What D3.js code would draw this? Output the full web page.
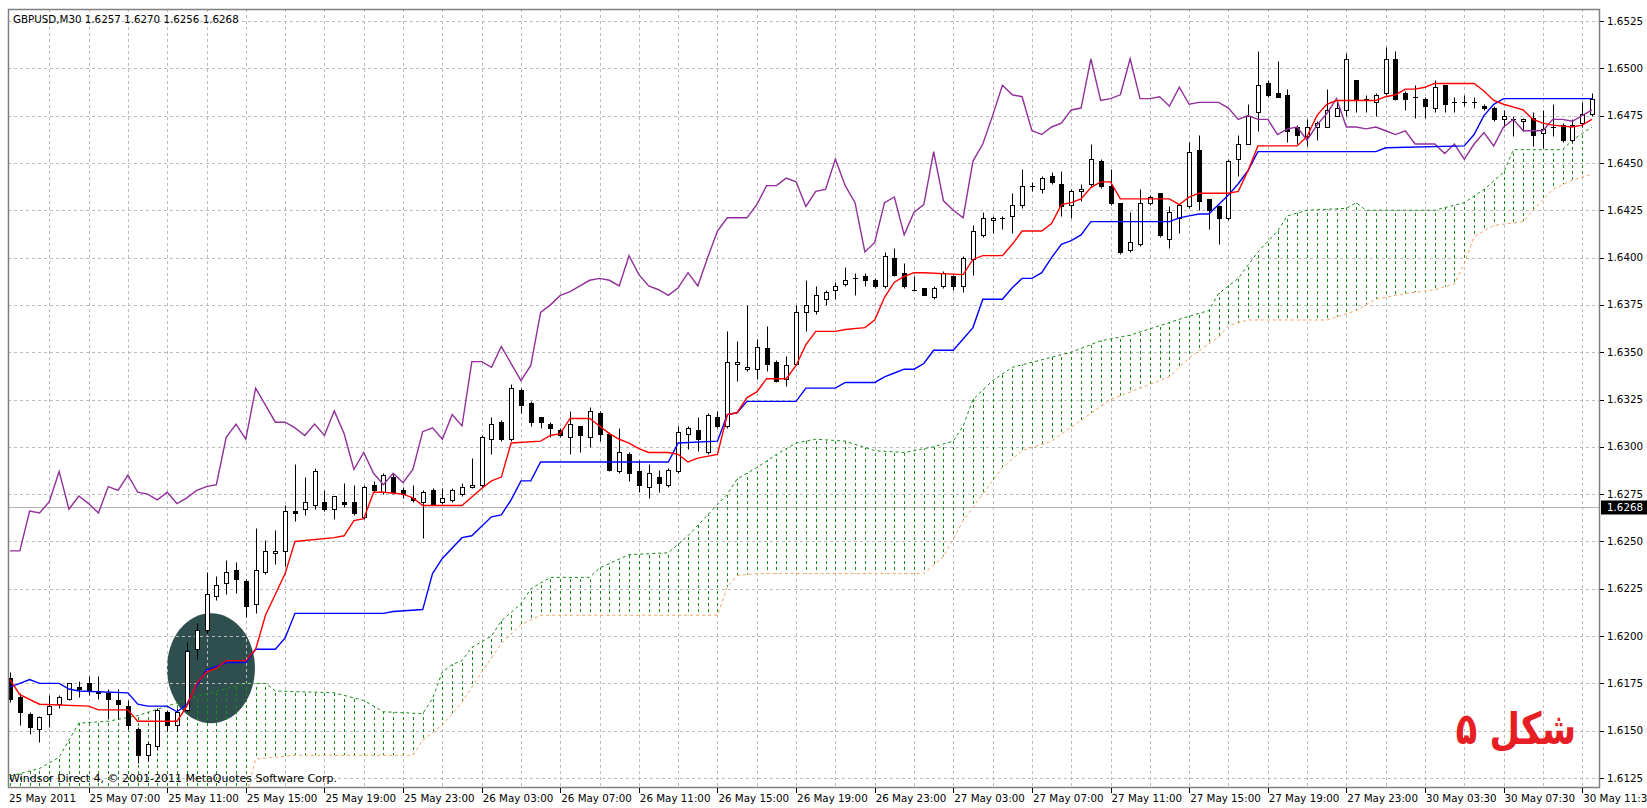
<!DOCTYPE html>
<html>
<head>
<meta charset="utf-8">
<script src="https://cdn.jsdelivr.net/npm/d3@7"></script>
<style>
body { margin: 0; background: #fff; }
svg { display: block; font-family: "DejaVu Sans", "Liberation Sans", sans-serif; }
</style>
</head>
<body>
<svg id="chart" width="1647" height="808"></svg>
<script>
// GBPUSD M30 bars: [open, high, low, close]
const candles = [
[1.6178,1.6181,1.6165,1.6167],[1.6168,1.6170,1.6153,1.6160],[1.6159,1.6160,1.6148,1.6152],[1.6151,1.6158,1.6144,1.6157],
[1.6159,1.6169,1.6152,1.6163],[1.6164,1.6169,1.6162,1.6168],[1.6167,1.6175,1.6166,1.6175],[1.6173,1.6176,1.6168,1.6172],
[1.6175,1.6179,1.6169,1.6171],[1.6171,1.6179,1.6167,1.6170],[1.6170,1.6172,1.6156,1.6167],[1.6166,1.6172,1.6156,1.6164],
[1.6163,1.6166,1.6151,1.6153],[1.6151,1.6152,1.6133,1.6137],[1.6137,1.6144,1.6134,1.6143],[1.6142,1.6162,1.6140,1.6161],
[1.6160,1.6161,1.6150,1.6153],[1.6153,1.6162,1.6150,1.6160],[1.6161,1.6197,1.6160,1.6192],[1.6193,1.6207,1.6188,1.6203],
[1.6203,1.6234,1.6201,1.6222],[1.6221,1.6232,1.6219,1.6227],[1.6228,1.6240,1.6222,1.6234],[1.6235,1.6239,1.6223,1.6230],
[1.6229,1.6230,1.6210,1.6216],[1.6217,1.6257,1.6212,1.6235],[1.6234,1.6251,1.6233,1.6245],[1.6244,1.6256,1.6238,1.6245],
[1.6245,1.6269,1.6237,1.6266],[1.6266,1.6291,1.6261,1.6265],[1.6267,1.6284,1.6264,1.6271],[1.6269,1.6289,1.6267,1.6287],
[1.6271,1.6277,1.6266,1.6267],[1.6267,1.6274,1.6262,1.6274],[1.6271,1.6281,1.6268,1.6270],[1.6271,1.6280,1.6264,1.6265],
[1.6263,1.6280,1.6262,1.6279],[1.6280,1.6282,1.6276,1.6277],[1.6276,1.6286,1.6275,1.6285],[1.6284,1.6286,1.6275,1.6276],
[1.6277,1.6279,1.6273,1.6275],[1.6273,1.6280,1.6271,1.6272],[1.6271,1.6277,1.6252,1.6276],[1.6277,1.6278,1.6270,1.6270],
[1.6271,1.6278,1.6270,1.6273],[1.6272,1.6278,1.6271,1.6277],[1.6275,1.6281,1.6274,1.6279],[1.6279,1.6294,1.6278,1.6280],
[1.6280,1.6306,1.6279,1.6305],[1.6304,1.6316,1.6296,1.6312],[1.6313,1.6314,1.6303,1.6304],[1.6304,1.6333,1.6303,1.6331],
[1.6330,1.6331,1.6318,1.6322],[1.6323,1.6324,1.6311,1.6313],[1.6316,1.6316,1.6310,1.6313],[1.6312,1.6313,1.6305,1.6310],
[1.6309,1.6310,1.6305,1.6306],[1.6305,1.6319,1.6296,1.6312],[1.6311,1.6311,1.6297,1.6306],[1.6305,1.6321,1.6300,1.6319],
[1.6318,1.6319,1.6303,1.6307],[1.6307,1.6308,1.6287,1.6288],[1.6287,1.6310,1.6286,1.6297],[1.6296,1.6297,1.6282,1.6286],
[1.6287,1.6293,1.6276,1.6280],[1.6279,1.6291,1.6273,1.6286],[1.6284,1.6288,1.6276,1.6281],[1.6280,1.6289,1.6279,1.6288],
[1.6287,1.6311,1.6286,1.6308],[1.6307,1.6311,1.6299,1.6310],[1.6309,1.6316,1.6298,1.6304],[1.6297,1.6318,1.6296,1.6317],
[1.6316,1.6319,1.6310,1.6311],[1.6311,1.6361,1.6310,1.6345],[1.6344,1.6356,1.6335,1.6345],[1.6341,1.6375,1.6340,1.6342],
[1.6341,1.6357,1.6336,1.6353],[1.6352,1.6364,1.6340,1.6344],[1.6345,1.6346,1.6334,1.6335],[1.6336,1.6348,1.6332,1.6343],
[1.6344,1.6375,1.6343,1.6371],[1.6371,1.6388,1.6361,1.6375],[1.6372,1.6385,1.6370,1.6380],[1.6378,1.6383,1.6375,1.6382],
[1.6383,1.6387,1.6378,1.6385],[1.6386,1.6395,1.6385,1.6388],[1.6389,1.6392,1.6380,1.6389],[1.6390,1.6392,1.6385,1.6388],
[1.6388,1.6389,1.6384,1.6385],[1.6385,1.6403,1.6384,1.6401],[1.6400,1.6405,1.6390,1.6391],[1.6392,1.6397,1.6384,1.6385],
[1.6383,1.6390,1.6383,1.6383],[1.6384,1.6384,1.6380,1.6380],[1.6379,1.6385,1.6378,1.6384],[1.6385,1.6393,1.6384,1.6392],
[1.6390,1.6391,1.6383,1.6385],[1.6385,1.6401,1.6382,1.6400],[1.6399,1.6417,1.6391,1.6414],[1.6412,1.6424,1.6411,1.6421],
[1.6420,1.6422,1.6413,1.6421],[1.6421,1.6422,1.6415,1.6421],[1.6422,1.6434,1.6413,1.6428],[1.6428,1.6447,1.6426,1.6438],
[1.6438,1.6440,1.6435,1.6438],[1.6436,1.6443,1.6434,1.6442],[1.6443,1.6445,1.6439,1.6440],[1.6439,1.6446,1.6422,1.6427],
[1.6428,1.6436,1.6421,1.6435],[1.6435,1.6439,1.6430,1.6436],[1.6439,1.6460,1.6438,1.6452],[1.6451,1.6452,1.6437,1.6438],
[1.6438,1.6447,1.6428,1.6429],[1.6429,1.6429,1.6402,1.6403],[1.6404,1.6424,1.6403,1.6408],[1.6407,1.6436,1.6406,1.6429],
[1.6429,1.6433,1.6428,1.6432],[1.6434,1.6434,1.6411,1.6412],[1.6410,1.6427,1.6405,1.6424],[1.6421,1.6428,1.6413,1.6428],
[1.6427,1.6461,1.6426,1.6456],[1.6457,1.6465,1.6425,1.6430],[1.6431,1.6431,1.6415,1.6425],[1.6427,1.6428,1.6407,1.6421],
[1.6421,1.6452,1.6420,1.6451],[1.6452,1.6465,1.6443,1.6460],[1.6460,1.6481,1.6460,1.6475],[1.6477,1.6509,1.6467,1.6491],
[1.6492,1.6494,1.6485,1.6486],[1.6487,1.6504,1.6485,1.6485],[1.6486,1.6489,1.6461,1.6467],[1.6469,1.6470,1.6460,1.6465],
[1.6464,1.6473,1.6459,1.6469],[1.6469,1.6472,1.6462,1.6471],[1.6469,1.6489,1.6469,1.6478],[1.6475,1.6483,1.6475,1.6479],
[1.6478,1.6508,1.6475,1.6505],[1.6494,1.6494,1.6477,1.6483],[1.6483,1.6486,1.6477,1.6484],[1.6482,1.6487,1.6475,1.6486],
[1.6487,1.6511,1.6486,1.6505],[1.6505,1.6509,1.6483,1.6484],[1.6487,1.6488,1.6478,1.6484],[1.6485,1.6491,1.6474,1.6485],
[1.6484,1.6485,1.6474,1.6480],[1.6479,1.6494,1.6477,1.6490],[1.6491,1.6491,1.6477,1.6481],[1.6482,1.6485,1.6477,1.6482],
[1.6482,1.6486,1.6480,1.6482],[1.6482,1.6485,1.6479,1.6482],[1.6480,1.6481,1.6478,1.6479],[1.6479,1.6480,1.6472,1.6473],
[1.6473,1.6478,1.6469,1.6475],[1.6473,1.6475,1.6464,1.6473],[1.6472,1.6474,1.6467,1.6473],[1.6474,1.6477,1.6459,1.6465],
[1.6466,1.6478,1.6458,1.6468],[1.6469,1.6481,1.6464,1.6469],[1.6470,1.6471,1.6461,1.6462],[1.6462,1.6473,1.6461,1.6470],
[1.6471,1.6482,1.6469,1.6476],[1.6476,1.6487,1.6475,1.6484]
];

// Ichimoku lines, [bar, price] vertices
const tenkan = [[0,1.6177],[1,1.6169],[3,1.6164],[8,1.6163],[9,1.6161],[12,1.6161],[13,1.6155],[17,1.6155],[18,1.6163],[19,1.6175],
[20,1.6181],[21,1.6183],[22,1.6187],[24,1.6187],[25,1.6193],[26,1.6211],[28,1.6233],[29,1.6250],[33,1.6252],[34,1.6253],
[35,1.6261],[36,1.6262],[37,1.6276],[38,1.6276],[40,1.6275],[41,1.6273],[42,1.6269],[46,1.6269],[48,1.6278],[49,1.6282],
[50,1.6284],[51,1.6302],[54,1.6303],[55,1.6306],[56,1.6307],[57,1.6315],[59,1.6315],[60,1.6311],[61,1.6307],[62,1.6304],
[63,1.6302],[64,1.6299],[65,1.6297],[67,1.6297],[68,1.6296],[69,1.6292],[70,1.6294],[72,1.6296],[73,1.6317],[74,1.6318],
[75,1.6326],[76,1.6329],[77,1.6336],[79,1.6336],[80,1.6343],[81,1.6354],[82,1.6361],[84,1.6361],[85,1.6362],[87,1.6363],
[88,1.6367],[89,1.6379],[90,1.6387],[91,1.6390],[92,1.6392],[93,1.6392],[97,1.6391],[98,1.6399],[99,1.6401],[101,1.6401],
[102,1.6407],[103,1.6414],[105,1.6414],[106,1.6418],[107,1.6428],[108,1.6429],[109,1.6431],[110,1.6437],[111,1.6440],[112,1.6440],
[113,1.6431],[118,1.6431],[119,1.6428],[120,1.6432],[121,1.6434],[124,1.6434],[125,1.6435],[126,1.6446],[127,1.6459],[131,1.6459],
[132,1.6464],[133,1.6475],[134,1.6481],[135,1.6483],[139,1.6483],[140,1.6485],[141,1.6486],[142,1.6489],[143,1.6489],[144,1.6490],
[145,1.6492],[149,1.6492],[150,1.6488],[151,1.6483],[152,1.6481],[154,1.6478],[155,1.6473],[156,1.6471],[157,1.6470],[159,1.6469],
[160,1.6470],[161,1.6473]];

const kijun = [[0,1.6173],[1,1.6175],[2,1.6177],[3,1.6175],[5,1.6175],[6,1.6172],[7,1.6171],[12,1.6170],[13,1.6164],[14,1.6163],
[16,1.6163],[17,1.6160],[18,1.6164],[19,1.6174],[20,1.6182],[21,1.6184],[22,1.6186],[24,1.6186],[25,1.6193],[27,1.6193],
[28,1.6199],[29,1.6212],[38,1.6212],[39,1.6213],[42,1.6214],[43,1.6233],[44,1.6241],[46,1.6252],[47,1.6253],[48,1.6258],
[49,1.6263],[50,1.6264],[51,1.6272],[52,1.6282],[53,1.6282],[54,1.6292],[67,1.6292],[68,1.6302],[72,1.6303],[73,1.6317],
[74,1.6318],[75,1.6324],[80,1.6324],[81,1.6331],[84,1.6331],[85,1.6334],[88,1.6334],[89,1.6337],[90,1.6339],[91,1.6341],
[92,1.6341],[93,1.6344],[94,1.6351],[96,1.6351],[97,1.6357],[98,1.6363],[99,1.6378],[101,1.6378],[102,1.6384],[103,1.6389],
[104,1.6389],[105,1.6392],[106,1.6400],[107,1.6407],[108,1.6409],[109,1.6412],[110,1.6419],[118,1.6419],[119,1.6421],[120,1.6422],
[121,1.6423],[122,1.6423],[123,1.6428],[124,1.6433],[125,1.6439],[126,1.6446],[127,1.6456],[139,1.6456],[140,1.6458],[148,1.6459],
[149,1.6465],[150,1.6475],[151,1.6481],[152,1.6484],[161,1.6484]];

// lagging span, one value per bar
const chikou = [
1.6245,1.6245,1.6266,1.6265,1.6271,1.6287,1.6267,1.6274,1.6270,1.6265,1.6279,1.6277,1.6285,1.6276,1.6275,1.6272,
1.6276,1.6270,1.6273,1.6277,1.6279,1.6280,1.6305,1.6312,1.6304,1.6331,1.6322,1.6313,1.6313,1.6310,1.6306,1.6312,
1.6306,1.6319,1.6307,1.6288,1.6297,1.6286,1.6280,1.6286,1.6281,1.6288,1.6308,1.6310,1.6304,1.6317,1.6311,1.6345,
1.6345,1.6342,1.6353,1.6344,1.6335,1.6343,1.6371,1.6375,1.6380,1.6382,1.6385,1.6388,1.6389,1.6388,1.6385,1.6401,
1.6391,1.6385,1.6383,1.6380,1.6384,1.6392,1.6385,1.6400,1.6414,1.6421,1.6421,1.6421,1.6428,1.6438,1.6438,1.6442,
1.6440,1.6427,1.6435,1.6436,1.6452,1.6438,1.6429,1.6403,1.6408,1.6429,1.6432,1.6412,1.6424,1.6428,1.6456,1.6430,
1.6425,1.6421,1.6451,1.6460,1.6475,1.6491,1.6486,1.6485,1.6467,1.6465,1.6469,1.6471,1.6478,1.6479,1.6505,1.6483,
1.6484,1.6486,1.6505,1.6484,1.6484,1.6485,1.6480,1.6490,1.6481,1.6482,1.6482,1.6482,1.6479,1.6473,1.6475,1.6473,
1.6473,1.6465,1.6468,1.6469,1.6462,1.6470,1.6476,1.6484,1.6469,1.6469,1.6468,1.6469,1.6467,1.6465,1.6467,1.6460,
1.6460,1.6460,1.6455,1.6460,1.6452,1.6460,1.6466,1.6459,1.6469,1.6473,1.6467,1.6467,1.6467,1.6473,1.6473,1.6472,
1.6475,1.6478];

// cloud edges
const spanA = [[0,1.6126],[3,1.6130],[5,1.6136],[7,1.6154],[10,1.6155],[13,1.6158],[19,1.6168],[24,1.6175],[26,1.6175],[27,1.6171],
[33,1.6170],[36,1.6166],[38,1.6160],[42,1.6159],[43,1.6167],[44,1.6181],[45,1.6185],[46,1.6187],[47,1.6194],[49,1.6200],
[50,1.6208],[52,1.6217],[53,1.6225],[55,1.6231],[59,1.6231],[60,1.6236],[63,1.6243],[67,1.6244],[69,1.6253],[71,1.6264],
[73,1.6275],[74,1.6283],[76,1.6289],[78,1.6296],[80,1.6302],[82,1.6304],[85,1.6303],[88,1.6298],[91,1.6297],[94,1.6300],
[96,1.6303],[97,1.6311],[98,1.6325],[100,1.6335],[102,1.6342],[105,1.6346],[108,1.6350],[111,1.6356],[114,1.6359],[117,1.6364],
[120,1.6369],[122,1.6372],[123,1.6381],[125,1.6389],[127,1.6403],[129,1.6414],[130,1.6422],[132,1.6425],[136,1.6426],[137,1.6429],
[138,1.6425],[145,1.6425],[148,1.6429],[150,1.6436],[152,1.6445],[153,1.6457],[158,1.6457],[159,1.6462],[161,1.6469]];

const spanB = [[0,1.6090],[23,1.6095],[25,1.6135],[29,1.6137],[41,1.6137],[42,1.6145],[44,1.6153],[46,1.6165],[48,1.6181],[50,1.6196],
[52,1.6206],[54,1.6211],[72,1.6211],[73,1.6226],[74,1.6232],[76,1.6233],[93,1.6233],[95,1.6242],[97,1.6261],[99,1.6275],
[101,1.6289],[103,1.6298],[106,1.6303],[109,1.6314],[112,1.6325],[115,1.6331],[118,1.6337],[120,1.6347],[123,1.6358],[124,1.6364],
[126,1.6367],[134,1.6367],[137,1.6372],[139,1.6378],[142,1.6381],[145,1.6383],[147,1.6386],[148,1.6397],[149,1.6411],[151,1.6417],
[154,1.6419],[155,1.6425],[157,1.6436],[159,1.6441],[161,1.6444]];

const priceTicks = ["1.6125","1.6150","1.6175","1.6200","1.6225","1.6250","1.6275","1.6300","1.6325","1.6350",
  "1.6375","1.6400","1.6425","1.6450","1.6475","1.6500","1.6525"];
const timeBars = [8,16,24,32,40,48,56,64,72,80,88,96,104,112,120,128,136,144,152,160];
const timeLabels = ["25 May 07:00","25 May 11:00","25 May 15:00","25 May 19:00","25 May 23:00","26 May 03:00","26 May 07:00",
  "26 May 11:00","26 May 15:00","26 May 19:00","26 May 23:00","27 May 03:00","27 May 07:00","27 May 11:00","27 May 15:00",
  "27 May 19:00","27 May 23:00","30 May 03:30","30 May 07:30","30 May 11:30"];
const lastPrice = 1.6268;

var L = 8, T = 9, R = 1600, B = 788;
var FS = "10.3px";
var svg = d3.select("#chart");

var x = d3.scaleLinear().domain([0, 161]).range([10, 1592]);
var y = d3.scaleLinear().domain([1.6125, 1.6525]).range([778, 21]);
var px = function(i) { return Math.round(x(i)) + 0.5; };
var py = function(v) { return Math.round(y(v)) + 0.5; };

var defs = svg.append("defs");
defs.append("clipPath").attr("id", "plot")
  .append("rect").attr("x", L).attr("y", T).attr("width", R - L).attr("height", B - T);

var cloudPts = spanA.map(function(d) { return [x(d[0]), y(d[1])]; })
  .concat(spanB.slice().reverse().map(function(d) { return [x(d[0]), y(d[1])]; }));
defs.append("clipPath").attr("id", "cloud")
  .append("path").attr("d", "M" + cloudPts.join("L") + "Z");

// highlight ellipse (under everything)
svg.append("ellipse")
  .attr("cx", x(20.45)).attr("cy", y(1.6183))
  .attr("rx", 44).attr("ry", 55)
  .attr("fill", "#2f4f4f");

// grid
var grid = svg.append("g").attr("stroke", "#bcbcbc").attr("stroke-dasharray", "3,3").attr("stroke-width", 1);
grid.selectAll(".gh").data(priceTicks).enter().append("line")
  .attr("x1", L).attr("x2", R)
  .attr("y1", function(d) { return py(+d); }).attr("y2", function(d) { return py(+d); });
grid.selectAll(".gv").data(d3.range(4, 161, 4)).enter().append("line")
  .attr("y1", T).attr("y2", B)
  .attr("x1", function(d) { return px(d); }).attr("x2", function(d) { return px(d); });

// last price line
svg.append("line")
  .attr("x1", L).attr("x2", R).attr("y1", py(lastPrice)).attr("y2", py(lastPrice))
  .attr("stroke", "#b8afb8").attr("stroke-width", 1);

var plot = svg.append("g").attr("clip-path", "url(#plot)");

// cloud hatch
plot.append("g").attr("clip-path", "url(#cloud)")
  .selectAll("line").data(candles).enter().append("line")
  .attr("x1", function(d, i) { return px(i); }).attr("x2", function(d, i) { return px(i); })
  .attr("y1", T).attr("y2", B)
  .attr("stroke", "#1a8a1a").attr("stroke-width", 1).attr("stroke-dasharray", "3,3");

var line = d3.line().x(function(d) { return x(d[0]); }).y(function(d) { return y(d[1]); });

plot.append("path").attr("d", line(spanA))
  .attr("fill", "none").attr("stroke", "#1a8a1a").attr("stroke-width", 1).attr("stroke-dasharray", "3,3");
plot.append("path").attr("d", line(spanB))
  .attr("fill", "none").attr("stroke", "#f4a460").attr("stroke-width", 1).attr("stroke-dasharray", "3,3");

// candles
var bars = plot.append("g").selectAll("g").data(candles).enter().append("g");
bars.append("line")
  .attr("x1", function(d, i) { return px(i); }).attr("x2", function(d, i) { return px(i); })
  .attr("y1", function(d) { return py(d[1]); }).attr("y2", function(d) { return py(d[2]); })
  .attr("stroke", "#000").attr("stroke-width", 1);
bars.each(function(d, i) {
  var top = py(Math.max(d[0], d[3])), bot = py(Math.min(d[0], d[3]));
  var g = d3.select(this);
  if (bot - top < 1) {
    g.append("line").attr("x1", px(i) - 2.5).attr("x2", px(i) + 2.5)
      .attr("y1", top).attr("y2", top).attr("stroke", "#000");
  } else {
    g.append("rect")
      .attr("x", px(i) - 2).attr("width", 4)
      .attr("y", top).attr("height", bot - top)
      .attr("fill", d[3] >= d[0] ? "#fff" : "#000")
      .attr("stroke", "#000").attr("stroke-width", 1);
  }
});

// indicator lines
plot.append("path").attr("d", d3.line().x(function(d, i) { return x(i); }).y(function(d) { return y(d); })(chikou))
  .attr("fill", "none").attr("stroke", "#91309a").attr("stroke-width", 1.4);
plot.append("path").attr("d", line(kijun))
  .attr("fill", "none").attr("stroke", "#0000ff").attr("stroke-width", 1.4);
plot.append("path").attr("d", line(tenkan))
  .attr("fill", "none").attr("stroke", "#ff0000").attr("stroke-width", 1.4);

// frame
svg.append("rect").attr("x", L + 0.5).attr("y", T + 0.5).attr("width", R - L - 1).attr("height", B - T - 1)
  .attr("fill", "none").attr("stroke", "#808080").attr("stroke-width", 1.5);

// price axis
var yAx = svg.append("g").attr("font-size", FS).attr("fill", "#000");
yAx.selectAll("line").data(priceTicks).enter().append("line")
  .attr("x1", R).attr("x2", R + 4)
  .attr("y1", function(d) { return py(+d); }).attr("y2", function(d) { return py(+d); })
  .attr("stroke", "#000");
yAx.selectAll("text").data(priceTicks).enter().append("text")
  .attr("x", R + 7).attr("y", function(d) { return y(+d); }).attr("dy", "0.35em")
  .text(function(d) { return d; });

svg.append("rect").attr("x", R + 1).attr("y", py(lastPrice) - 7).attr("width", 46).attr("height", 14).attr("fill", "#000");
svg.append("text").attr("x", R + 7).attr("y", y(lastPrice)).attr("dy", "0.35em")
  .attr("font-size", FS).attr("fill", "#fff").text(lastPrice.toFixed(4));

// time axis
var xAx = svg.append("g").attr("font-size", FS).attr("fill", "#000");
xAx.selectAll("line").data(timeBars).enter().append("line")
  .attr("x1", function(d) { return px(d); }).attr("x2", function(d) { return px(d); })
  .attr("y1", B).attr("y2", B + 5).attr("stroke", "#000");
xAx.selectAll("text").data(timeLabels).enter().append("text")
  .attr("x", function(d, i) { return x(timeBars[i]) + 1; }).attr("y", 802)
  .text(function(d) { return d; });
xAx.append("text").attr("x", 9).attr("y", 802).text("25 May 2011");

// captions
svg.append("text").attr("x", 13).attr("y", 23).attr("font-size", FS)
  .text("GBPUSD,M30  1.6257 1.6270 1.6256 1.6268");
svg.append("text").attr("x", 9).attr("y", 782).attr("font-size", "11px")
  .text("Windsor Direct 4, © 2001-2011 MetaQuotes Software Corp.");
svg.append("text").attr("transform", "translate(1576,744) scale(0.8,1)").attr("text-anchor", "end")
  .attr("font-family", "DejaVu Sans").attr("font-weight", "bold").attr("font-size", "44px")
  .attr("fill", "#e81e25").text("شکل ۵");
</script>
</body>
</html>
